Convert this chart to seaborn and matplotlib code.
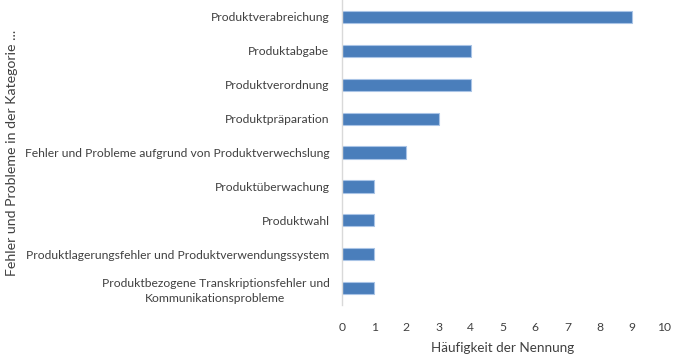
import pandas as pd
import matplotlib
matplotlib.use('Agg')
import matplotlib.pyplot as plt
import seaborn as sns

# Kategorien und Häufigkeiten
kategorien = [
    'Produktverabreichung',
    'Produktabgabe',
    'Produktverordnung',
    'Produktpräparation',
    'Fehler und Probleme aufgrund von Produktverwechslung',
    'Produktüberwachung',
    'Produktwahl',
    'Produktlagerungsfehler und Produktverwendungssystem',
    'Produktbezogene Transkriptionsfehler und\nKommunikationsprobleme',
]
haeufigkeit = [9, 4, 4, 3, 2, 1, 1, 1, 1]
x_ticks = list(range(0, 11))

data = pd.DataFrame({'Kategorie': kategorien, 'Anzahl': haeufigkeit})

sns.set_style('white')
plt.rcParams['font.family'] = ['Lato', 'DejaVu Sans']

fig = plt.figure(figsize=(6.73, 3.56), dpi=100)
ax = fig.add_axes([0.508, 0.143, 0.479, 0.857])

sns.barplot(data=data, x='Anzahl', y='Kategorie', color='#4a7ebb', saturation=1,
            width=0.36, edgecolor='#a9c4e6', linewidth=0.8, ax=ax, orient='h')

ax.set_xlim(0, 10)
ax.set_xticks(x_ticks)
ax.set_ylim(8.5, -0.5)
ax.set_xlabel('Häufigkeit der Nennung', fontsize=9.7, color='#404040', labelpad=7)
ax.set_ylabel('Fehler und Probleme in der Kategorie ...', fontsize=10.2, color='#404040')
ax.yaxis.set_label_coords(-1.005, 0.5)
ax.tick_params(axis='both', length=0, labelsize=8.7, colors='#404040')
ax.tick_params(axis='y', pad=9)
ax.tick_params(axis='x', pad=12)
for lbl in ax.get_yticklabels():
    lbl.set_horizontalalignment('right')
    lbl.set_multialignment('center')
    lbl.set_linespacing(1.4)

for s in ['top', 'right', 'bottom']:
    ax.spines[s].set_visible(False)
ax.spines['left'].set_color('#d9d9d9')
ax.spines['left'].set_linewidth(1)

fig.savefig('out.png', dpi=100)
